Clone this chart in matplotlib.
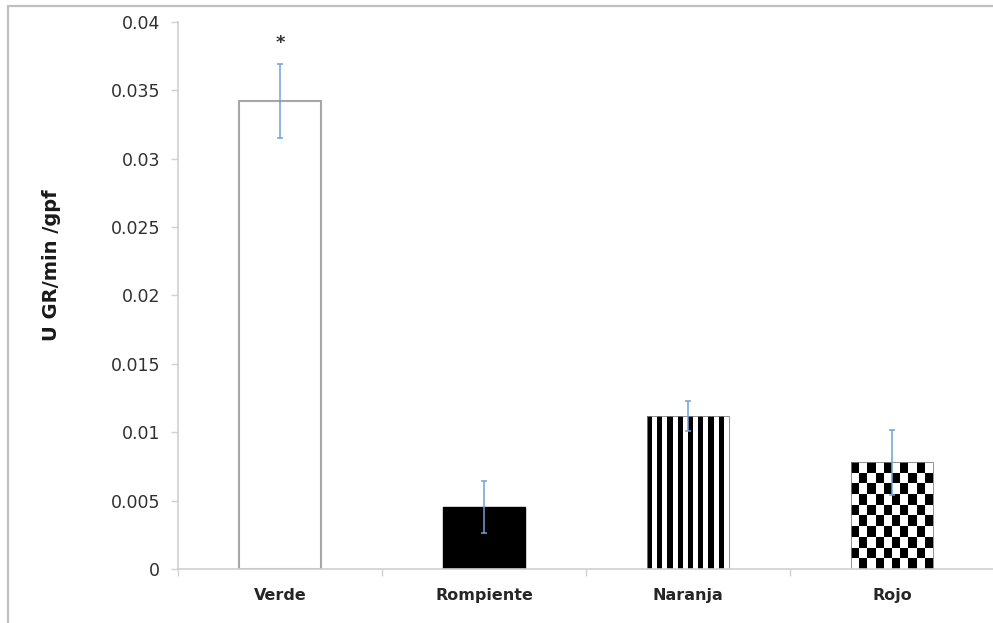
import matplotlib
matplotlib.use('AGG')
import matplotlib.pyplot as plt
from matplotlib.patches import Rectangle
from matplotlib.ticker import FuncFormatter, FixedLocator
import numpy as np

categories = ['Verde', 'Rompiente', 'Naranja', 'Rojo']
values = [0.0342, 0.0045, 0.0112, 0.0078]
errors = [0.0027, 0.0019, 0.0011, 0.0024]
marks = ['*', '', '', '']

plt.rcParams['font.family'] = ['DejaVu Sans']

fig = plt.figure(figsize=(9.93, 6.23), dpi=100)
ax = fig.add_axes([0.1793, 0.0867, 0.8217, 0.878])

x = np.arange(len(categories))
bars = ax.bar(x, values, width=0.4, zorder=2)

# plain / solid bars
bars[0].set_facecolor('white')
bars[0].set_edgecolor('#a6a6a6')
bars[0].set_linewidth(1.5)
bars[1].set_facecolor('black')
bars[1].set_edgecolor('black')

# patterned bars drawn as images clipped to the bar
stripes = np.tile([1, 0], 8).reshape(1, 16)
checker = (np.indices((10, 10)).sum(axis=0) + 1) % 2
for bar, pattern in [(bars[2], stripes), (bars[3], checker)]:
    bar.set_facecolor('none')
    bar.set_edgecolor('#808080')
    bar.set_linewidth(0.6)
    x0, w, h = bar.get_x(), bar.get_width(), bar.get_height()
    im = ax.imshow(pattern, cmap='gray_r', vmin=0, vmax=1, interpolation='nearest',
                   extent=(x0, x0 + w, 0, h), aspect='auto', zorder=1.9)
    im.set_clip_path(bar)

ax.errorbar(x, values, yerr=errors, fmt='none', ecolor='#6fa0dc', elinewidth=1.1,
            capsize=2.5, capthick=1.1, zorder=3)

for xi, v, e, m in zip(x, values, errors, marks):
    if m:
        ax.text(xi, v + e + 0.0009, m, ha='center', va='bottom', fontsize=13,
                fontweight='bold', color='#333333', zorder=4)

ax.set_xlim(-0.5, len(categories) - 0.5)
ax.set_ylim(0, 0.04)
ax.set_yticks(np.arange(0, 0.0401, 0.005))
ax.yaxis.set_major_formatter(FuncFormatter(lambda v, p: '%g' % round(v, 4)))

ax.set_xticks(x)
ax.set_xticklabels(categories, fontsize=11.5, fontweight='bold', color='#262626')
ax.xaxis.set_minor_locator(FixedLocator(np.arange(-0.5, len(categories), 1.0)))
ax.tick_params(axis='x', which='major', length=0, pad=14)
ax.tick_params(axis='x', which='minor', length=5, width=1, color='#d0d0d0', direction='out')
ax.tick_params(axis='y', length=5, width=1, color='#d0d0d0', labelsize=12.5,
               labelcolor='#303030', pad=8)

ax.set_ylabel('U GR/min /gpf', fontsize=14, fontweight='bold', color='#1a1a1a')
ax.yaxis.set_label_coords(-0.143, 0.556)

for s in ['top', 'right']:
    ax.spines[s].set_visible(False)
for s in ['left', 'bottom']:
    ax.spines[s].set_color('#d0d0d0')
    ax.spines[s].set_linewidth(1.2)

# outer frame of the original picture (open at right and bottom)
fig.patches.append(Rectangle((8 / 993, -0.1), 1.2, 1.1 - 6 / 623, transform=fig.transFigure,
                             fill=False, edgecolor='#bfbfbf', linewidth=1.6, zorder=0))

plt.savefig('out.png', dpi=100)
